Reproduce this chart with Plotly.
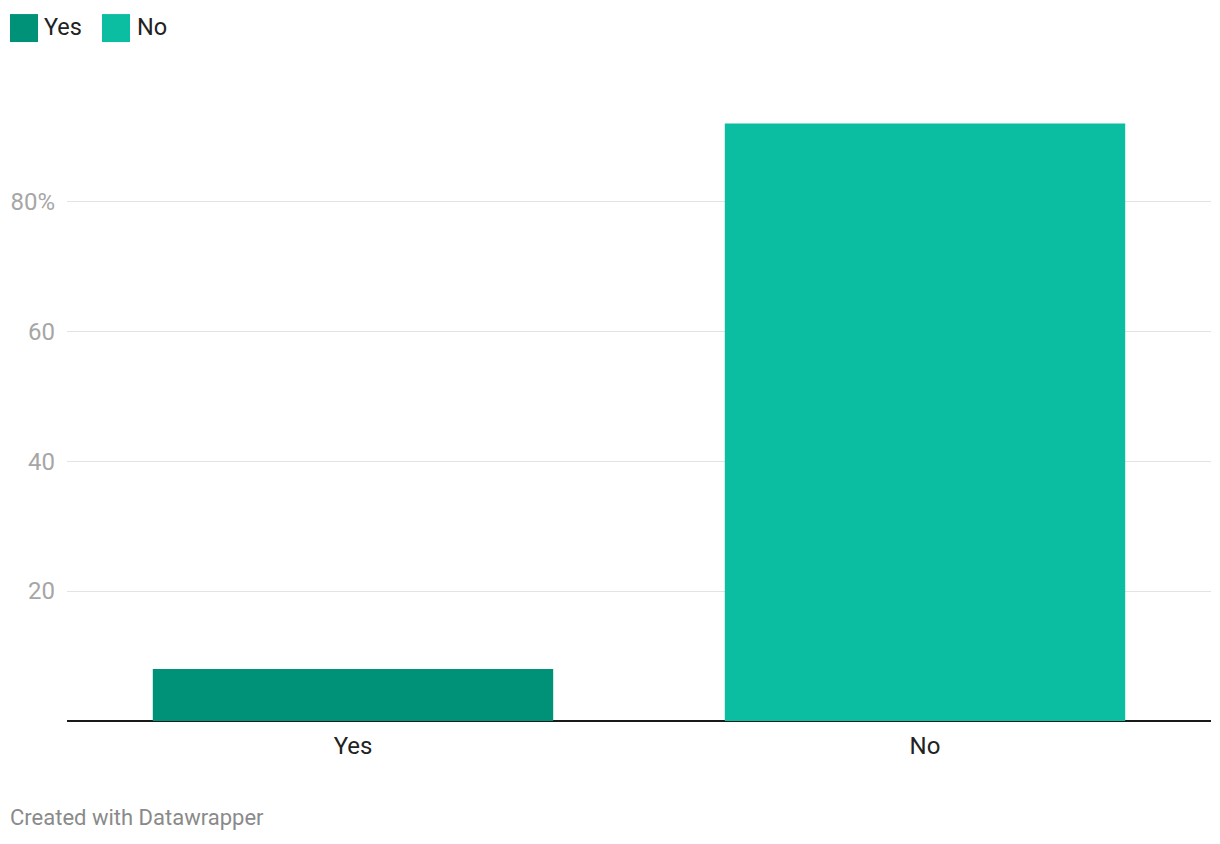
import plotly.graph_objects as go

categories = ["Yes", "No"]
values = [8, 92]
colors = ["#009278", "#0bbda1"]
y_tickvals = [20, 40, 60, 80]
y_ticktext = ["20", "40", "60", "80%"]

# figure geometry (page body has an 8px margin)
W, H = 1204, 828
L, R, T, B = 59, 1, 92, 114.5
PW, PH = W - L - R, H - T - B


def px(xfig):
    return (xfig - L) / PW


def py(yfig):
    return (H - B - yfig) / PH


fig = go.Figure()
for cat, val, col in zip(categories, values, colors):
    fig.add_trace(go.Bar(x=[cat], y=[val], marker=dict(color=col, line=dict(width=0)),
                         name=cat, showlegend=False, width=0.7))

# custom legend (large swatches)
legend_swatch_x = [2, 94]
legend_text_x = [34, 127]
shapes = []
annotations = []
for cat, col, sx, tx in zip(categories, colors, legend_swatch_x, legend_text_x):
    shapes.append(dict(type="rect", xref="paper", yref="paper",
                       x0=px(sx), x1=px(sx + 28), y0=py(34), y1=py(6),
                       fillcolor=col, line=dict(width=0)))
    annotations.append(dict(text=cat, xref="paper", yref="paper", x=px(tx), y=py(19),
                            xanchor="left", yanchor="middle", showarrow=False,
                            font=dict(size=23.5, color="#222")))

annotations.append(dict(text="Created with Datawrapper", xref="paper", yref="paper",
                        x=px(0), y=py(810), xanchor="left", yanchor="middle",
                        showarrow=False, font=dict(size=22, color="#8a8a8a")))

fig.update_layout(
    width=W, height=H,
    paper_bgcolor="white", plot_bgcolor="white",
    margin=dict(l=L, r=R, t=T, b=B),
    font=dict(family="Roboto", size=24, color="#222"),
    showlegend=False,
    bargap=0.3,
    xaxis=dict(showgrid=False, zeroline=False, showline=False, ticks="",
               tickfont=dict(size=24, color="#222"), ticklabelstandoff=8,
               range=[-0.5, 1.5]),
    yaxis=dict(range=[0, 95.6], tickvals=y_tickvals, ticktext=y_ticktext,
               showgrid=True, gridcolor="#e3e3e3", gridwidth=1,
               zeroline=True, zerolinecolor="#1a1a1a", zerolinewidth=2,
               showline=False, ticks="", ticklabelstandoff=11,
               tickfont=dict(size=24, color="#a6a6a6")),
    shapes=shapes,
    annotations=annotations,
)

fig.write_html("out.html")
